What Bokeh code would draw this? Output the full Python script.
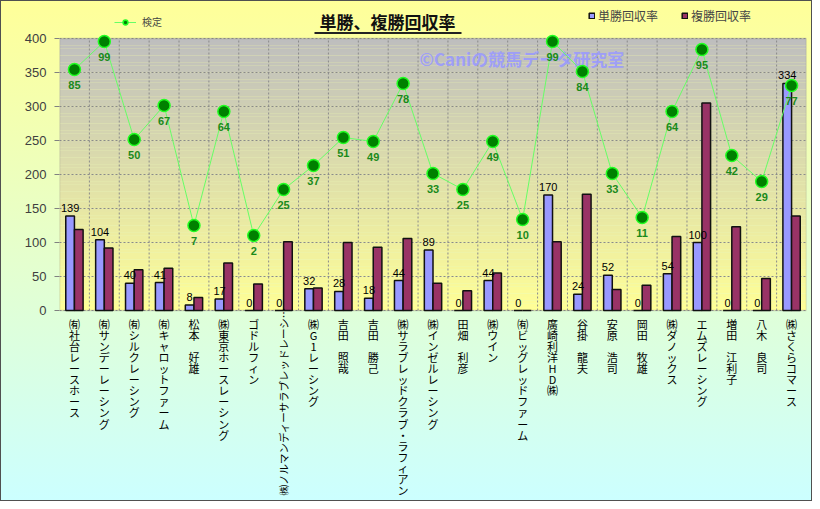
import numpy as np
from bokeh.plotting import figure
from bokeh.models import (ColumnDataSource, Range1d, FactorRange, FixedTicker,
                          Legend, LegendItem, Label, BoxAnnotation)
from bokeh.transform import dodge
from bokeh.core.properties import value
from bokeh.embed import file_html
from bokeh.resources import INLINE

# ---------------- data ----------------
owners = ["㈲社台レースホース", "㈲サンデーレーシング", "㈲シルクレーシング", "㈲キャロットファーム",
          "松本　好雄", "㈱東京ホースレーシング", "ゴドルフィン", "㈱ノルマンディーサラブレッドレーシング",
          "㈱G1レーシング", "吉田　照哉", "吉田　勝己", "㈱サラブレッドクラブ・ラフィアン",
          "㈱インゼルレーシング", "田畑　利彦", "㈱ウイン", "㈲ビッグレッドファーム",
          "廣崎利洋HD㈱", "谷掛　龍夫", "安原　浩司", "岡田　牧雄", "㈱ダノックス",
          "エムズレーシング", "増田　江利子", "八木　良司", "㈱さくらコマース"]
truncated_label = "㈱ノルマンディーサラブレッドレーシ…"
tansho = [139, 104, 40, 41, 8, 17, 0, 0, 32, 28, 18, 44, 89, 0, 44, 0, 170, 24, 52, 0, 54, 100, 0, 0, 334]
fukusho = [119, 92, 60, 62, 19, 70, 39, 101, 33, 100, 93, 106, 40, 29, 55, 0, 101, 171, 31, 37, 109, 305, 123, 47, 139]
kentei = [85, 99, 50, 67, 7, 64, 2, 25, 37, 51, 49, 78, 33, 25, 49, 10, 99, 84, 33, 11, 64, 95, 42, 29, 77]
y_ticks = [0, 50, 100, 150, 200, 250, 300, 350, 400]
y_min, y_max = 0, 400

# ---------------- layout helpers (pixels of the 812x501 canvas) ----------------
W, H = 812, 501
FL, FR = 58, 805              # plot-area left / right
PT, PB = 37, 309              # pixel rows of y=400 and y=0
ppu = (PB - PT) / (y_max - y_min)
def py(pix):                   # pixel row -> primary data value
    return (PB - pix) / ppu
# hidden secondary scale of the 検定 line: primary = K0 + K1 * v
K0, K1 = 104.4, 2.941

src = ColumnDataSource(dict(
    owner=owners, tansho=tansho, fukusho=fukusho, kentei=kentei,
    tansho_lbl=[str(v) for v in tansho], kentei_lbl=[str(v) for v in kentei],
    stacked=["" if o == owners[7] else "\n".join(list(o)) for o in owners],
    base=[0] * len(owners),
))
bnd = ColumnDataSource(dict(owner=owners[:-1], y0=[y_min] * (len(owners) - 1),
                            y1=[y_max] * (len(owners) - 1)))

JP = "Noto Sans CJK JP"

p = figure(x_range=FactorRange(factors=owners), y_range=Range1d(py(H), py(0)),
           width=W, height=H, output_backend="svg", toolbar_location=None,
           min_border_left=FL, min_border_right=W - FR, min_border_top=0, min_border_bottom=0)
p.extra_y_ranges = {"k": Range1d((py(H) - K0) / K1, (py(0) - K0) / K1)}
p.border_fill_alpha = 0
p.background_fill_alpha = 0
p.outline_line_color = None
p.styles = {"background": "linear-gradient(to bottom, #FFFF99 0%, #CCFFFF 100%)",
            "border": "1px solid #505050"}

# plot-area gradient (grey top -> pale yellow bottom)
top_c = np.array([190, 190, 190])
bot_c = np.array([255, 255, 150])
nb = 80
for i in range(nb):
    t = (i + 0.5) / nb
    c = bot_c + (top_c - bot_c) * t
    col = "#%02x%02x%02x" % tuple(int(round(v)) for v in c)
    p.add_layout(BoxAnnotation(bottom=y_max * i / nb, top=y_max * (i + 1) / nb,
                               fill_color=col, fill_alpha=1, line_alpha=0, level="image"))

# grids
p.ygrid.ticker = FixedTicker(ticks=y_ticks)
p.ygrid.grid_line_color = "#8a8a8a"
p.ygrid.grid_line_dash = "2 2"
p.xgrid.visible = False
p.segment(x0=dodge("owner", 0.5, range=p.x_range), x1=dodge("owner", 0.5, range=p.x_range),
          y0="y0", y1="y1", source=bnd, line_color="#8a8a8a", line_dash="2 2", line_width=1,
          level="underlay")
p.add_layout(BoxAnnotation(bottom=y_min, top=y_max, fill_alpha=0, line_color="#808080",
                           line_width=1.5, level="underlay"))

# watermark
p.add_layout(Label(x=418 - FL, x_units="screen", y=py(57),
                   text="©Caniの競馬データ研究室", text_font=JP, text_font_size="17px",
                   text_font_style="bold", text_color="#9999FF", text_alpha=0.9,
                   text_baseline="middle", level="underlay"))

# bars
b1 = p.vbar(x=dodge("owner", -0.145, range=p.x_range), top="tansho", width=0.29, source=src,
            fill_color="#9999FF", line_color="#111111", line_width=1.5)
b2 = p.vbar(x=dodge("owner", 0.145, range=p.x_range), top="fukusho", width=0.29, source=src,
            fill_color="#993366", line_color="#111111", line_width=1.5)
p.text(x=dodge("owner", -0.145, range=p.x_range), y="tansho", text="tansho_lbl", source=src,
       text_align="center", text_baseline="bottom", y_offset=-4,
       text_font=value("Liberation Sans"), text_font_size="11px", text_color="#000000")

# line on hidden secondary scale
ln = p.line(x="owner", y="kentei", y_range_name="k", source=src, line_color="#66FF66", line_width=1)
sc = p.scatter(x="owner", y="kentei", y_range_name="k", source=src, size=12,
               fill_color="#008000", line_color="#22FF22", line_width=1.5)
p.text(x="owner", y="kentei", y_range_name="k", text="kentei_lbl", source=src,
       text_align="center", text_baseline="top", y_offset=11,
       text_font=value("Liberation Sans"), text_font_size="11px", text_font_style="bold",
       text_color="#1A8A1A")

# y axis (only 0..400)
p.yaxis.bounds = (y_min, y_max)
p.yaxis.ticker = FixedTicker(ticks=y_ticks)
p.yaxis.axis_line_color = None
p.yaxis.major_tick_line_color = "#808080"
p.yaxis.major_tick_in = 0
p.yaxis.major_tick_out = 5
p.yaxis.minor_tick_line_color = None
p.yaxis.major_label_standoff = 8
p.yaxis.major_label_text_font = "Liberation Sans"
p.yaxis.major_label_text_font_size = "13px"
p.yaxis.major_label_text_color = "#404040"
p.xaxis.visible = False

# category labels, written vertically below the plot area
p.text(x="owner", y="base", text="stacked", source=src, text_align="center",
       text_baseline="top", y_offset=5, text_line_height=0.695,
       text_font=value(JP), text_font_size="11px", text_color="#000000")
idx_long = owners.index("㈱ノルマンディーサラブレッドレーシング")
p.add_layout(Label(x=idx_long + 0.5, y=py(494), text=truncated_label,
                   angle=np.pi / 2, text_align="left", text_baseline="middle",
                   text_font=JP, text_font_size="10.5px", text_color="#000000"))

# title (underlined)
p.add_layout(Label(x=386 - FL, x_units="screen", y=py(20), text="単勝、複勝回収率",
                   text_align="center", text_baseline="middle", text_font=JP,
                   text_font_size="17px", text_font_style="bold", text_color="#111111"))
p.add_layout(BoxAnnotation(left=313 - FL, right=460 - FL, left_units="screen",
                           right_units="screen", bottom=py(32.5), top=py(30.5),
                           fill_color="#222222", fill_alpha=1, line_alpha=0))

# legends
leg_k = Legend(items=[LegendItem(label="検定", renderers=[ln, sc])], location=(113 - FL, H - 28),
               orientation="horizontal", background_fill_alpha=0, border_line_alpha=0,
               padding=0, margin=0, glyph_width=22, glyph_height=12, label_height=12,
               label_standoff=6, label_text_font=JP, label_text_font_size="10px")
p.add_layout(leg_k)
leg_b = Legend(items=[LegendItem(label="単勝回収率", renderers=[b1]),
                      LegendItem(label="複勝回収率", renderers=[b2])],
               location=(587 - FL, H - 23), orientation="horizontal", background_fill_alpha=0,
               border_line_alpha=0, padding=0, margin=0, spacing=23, glyph_width=7,
               glyph_height=7, label_height=12, label_standoff=3, label_text_font=JP,
               label_text_font_size="12px")
p.add_layout(leg_b)

open("out.html", "w").write(file_html(p, INLINE))
